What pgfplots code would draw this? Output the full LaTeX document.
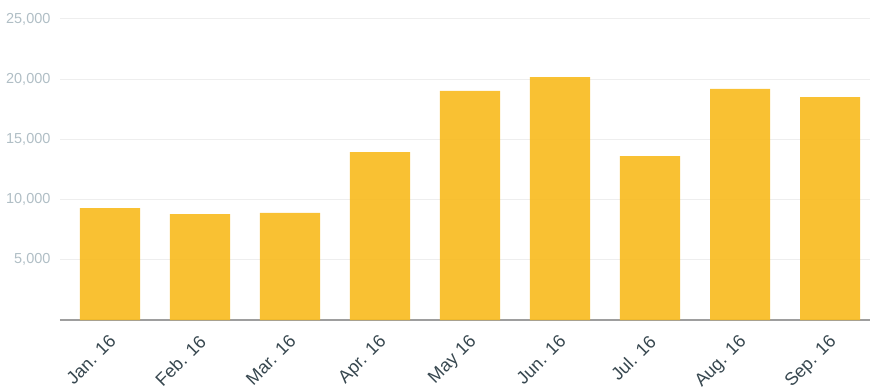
\documentclass[border=0pt]{standalone}
\usepackage{pgfplots}
\pgfplotsset{compat=1.18}
\usepackage{fontspec}
\setmainfont{Liberation Sans}
\definecolor{barc}{HTML}{F8BC22}
\definecolor{ylab}{HTML}{B0BEC5}
\definecolor{xlab}{HTML}{37474F}
\definecolor{gridc}{HTML}{EEEEEE}
\definecolor{axc}{HTML}{9E9E9E}
\begin{document}
\begin{tikzpicture}
\begin{axis}[
  name=ax,
  scale only axis,
  width=810pt, height=301pt,
  xmin=-0.5556, xmax=8.4444,
  ymin=0, ymax=25000,
  axis x line*=bottom,
  axis y line*=left,
  y axis line style={draw=none},
  x axis line style={axc, line width=1.2pt},
  xtick={0,...,8},
  xticklabels={Jan. 16,Feb. 16,Mar. 16,Apr. 16,May 16,Jun. 16,Jul. 16,Aug. 16,Sep. 16},
  major tick length=0pt,
  xticklabel style={xshift=-2pt, yshift=-12pt, rotate=45, anchor=north east, font=\fontsize{18}{20}\selectfont, text=xlab, inner sep=1pt},
  ytick={5000,10000,15000,20000,25000},
  scaled y ticks=false,
  ymajorgrids,
  grid style={gridc, line width=1pt},
  yticklabel style={font=\fontsize{14.5}{16}\selectfont, text=ylab, xshift=-6pt},
  /pgf/number format/.cd, fixed, 1000 sep={,}, assume math mode=true,
  /pgfplots/.cd,
  ybar, bar width=0.667,
]
\addplot[fill=barc, fill opacity=0.92, draw=none] coordinates {
(0,9300) (1,8800) (2,8890) (3,13950) (4,19020) (5,20180) (6,13620) (7,19190) (8,18520)};
\end{axis}
\pgfresetboundingbox
\path ([shift={(-60pt,-70pt)}]ax.south west) rectangle ([shift={(0pt,19pt)}]ax.north east);
\end{tikzpicture}
\end{document}
